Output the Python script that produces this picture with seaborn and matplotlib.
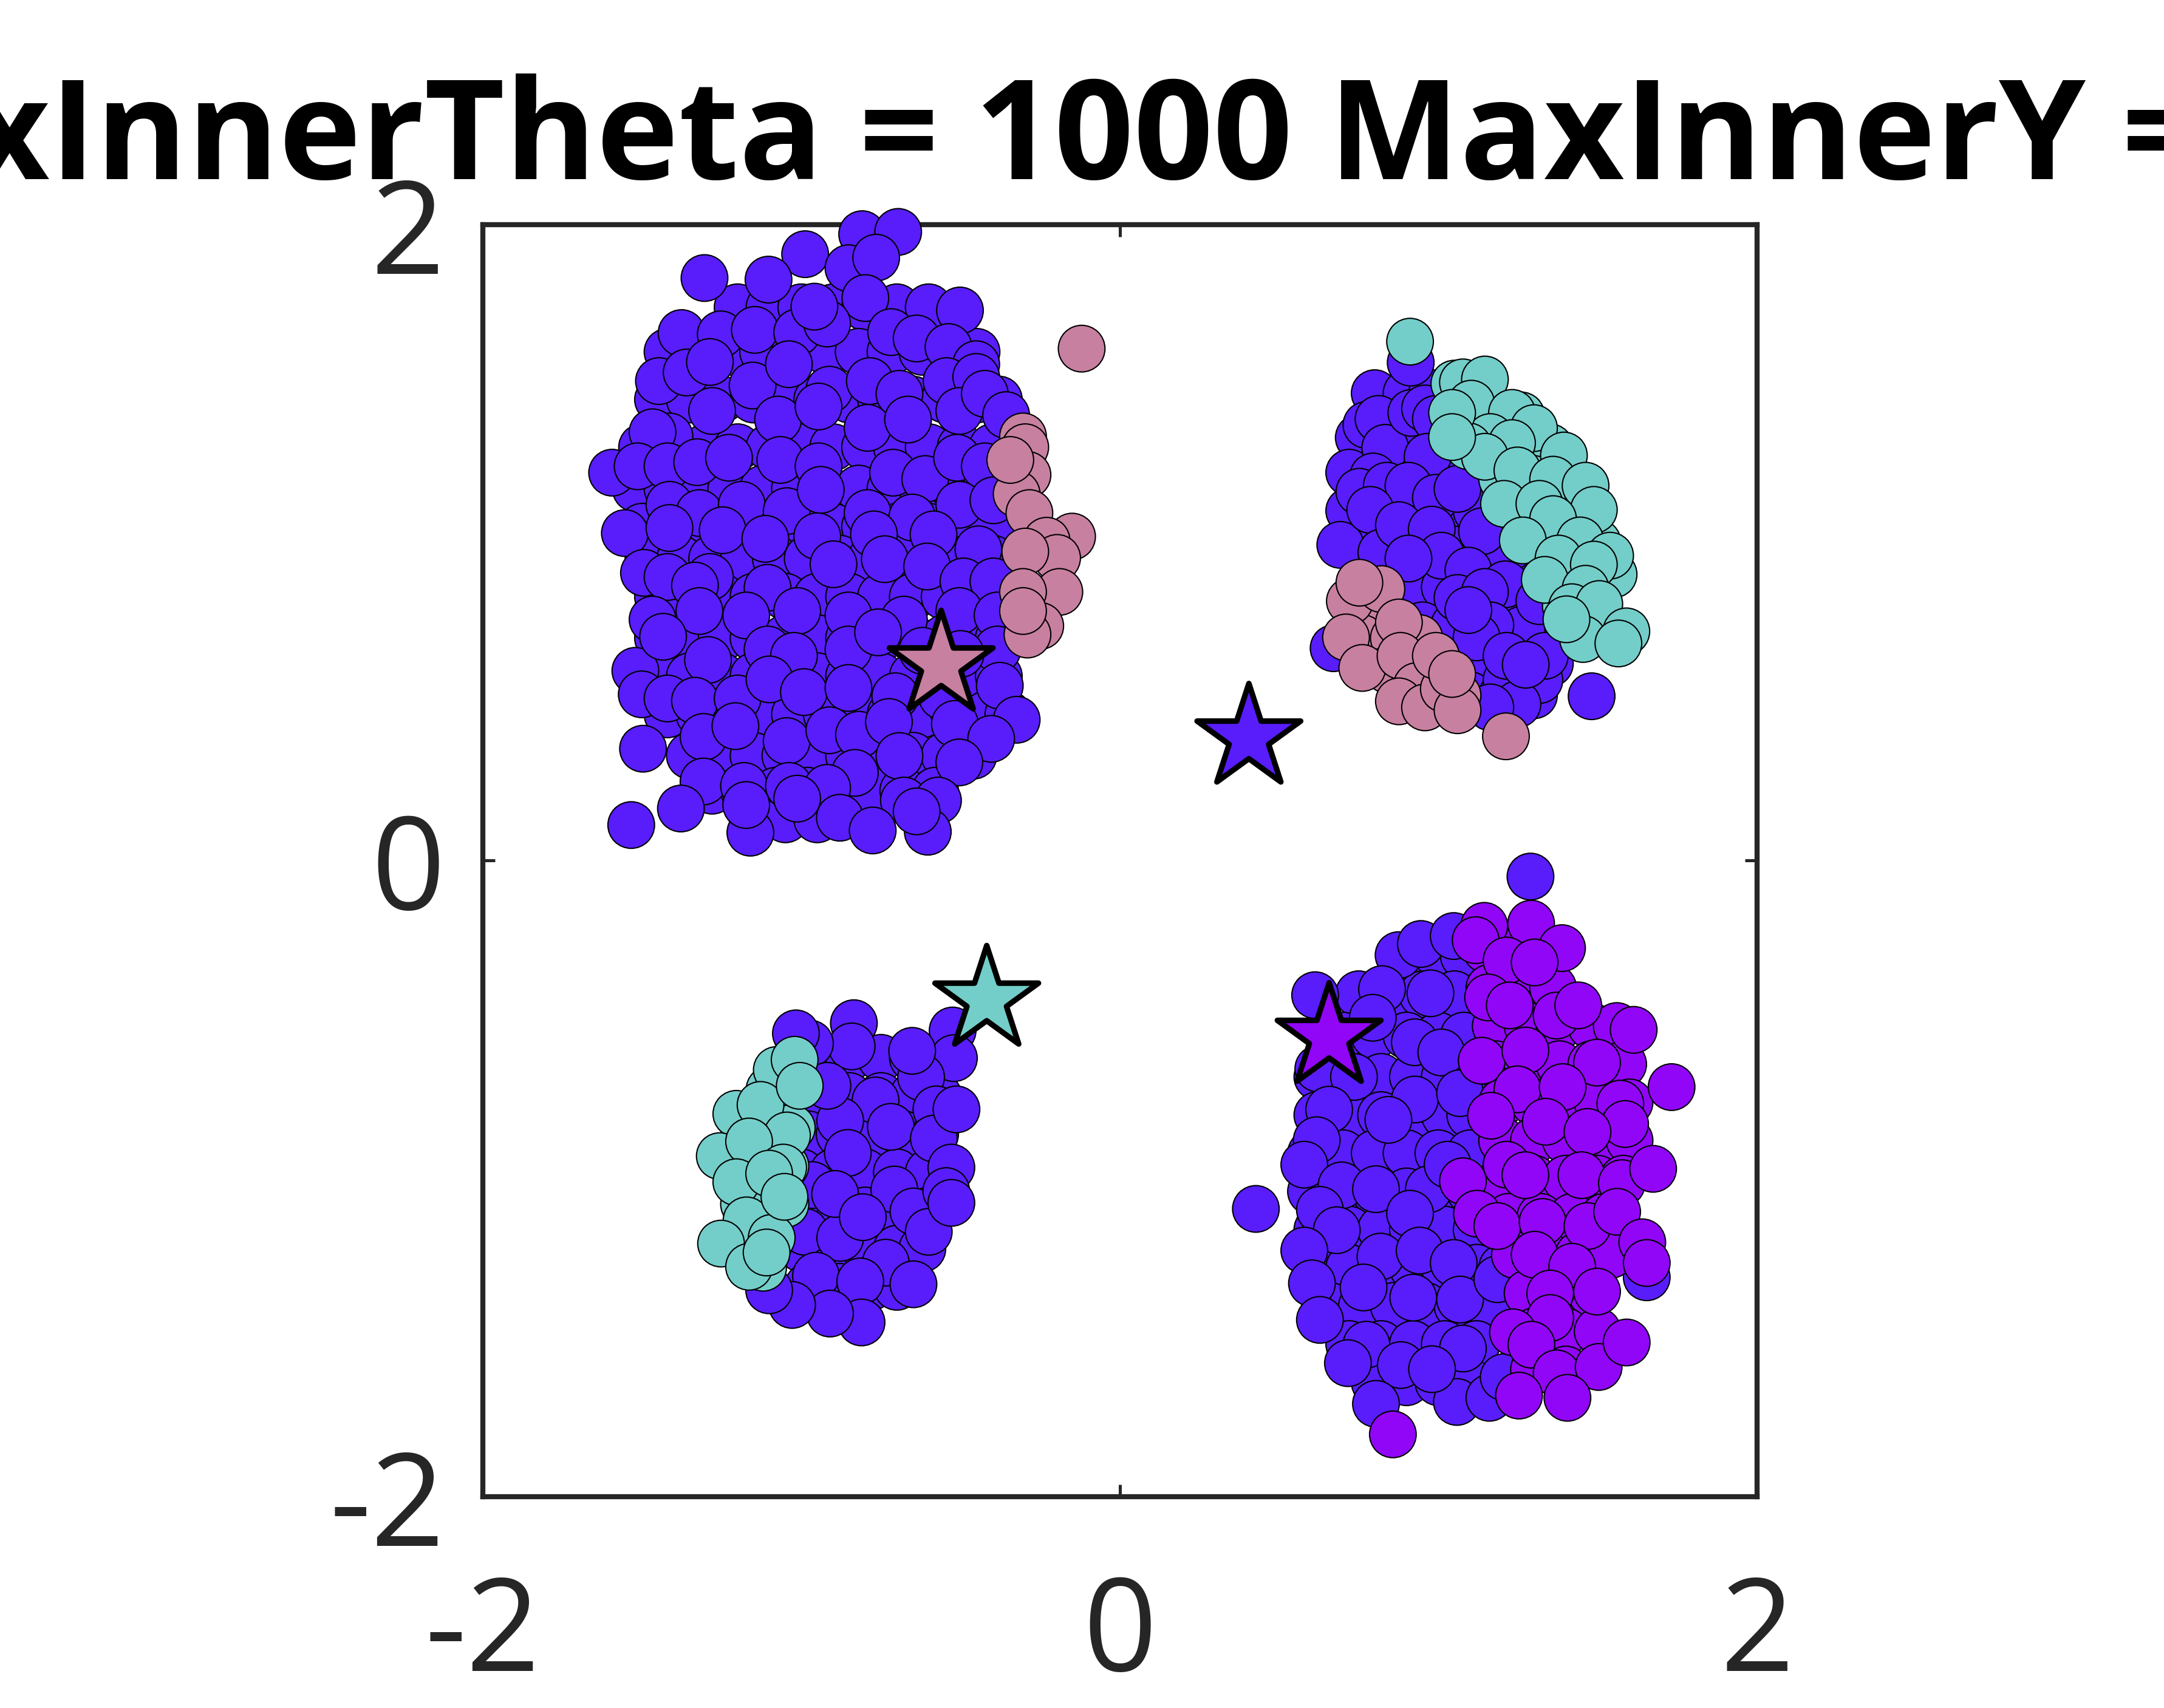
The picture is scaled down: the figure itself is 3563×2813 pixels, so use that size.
import matplotlib
matplotlib.use("Agg")
import matplotlib.pyplot as plt
import seaborn as sns
import pandas as pd

# ---------------- data ----------------
# dense inner parts of each blob, as rows: (y, [x values])
blue_core_rows = [
    (1.74, [-1.20, -1.10, -1.00, -0.90, -0.80, -0.70, -0.60]),
    (1.60, [-1.42, -1.32, -1.22, -1.12, -1.02, -0.92, -0.82, -0.72, -0.62, -0.52, -0.45]),
    (1.45, [-1.45, -1.35, -1.25, -1.15, -1.05, -0.95, -0.85, -0.75, -0.65, -0.55, -0.45, -0.38]),
    (1.30, [-1.50, -1.40, -1.30, -1.20, -1.10, -1.00, -0.90, -0.80, -0.70, -0.60, -0.50, -0.40]),
    (1.17, [-1.52, -1.42, -1.32, -1.22, -1.12, -1.02, -0.92, -0.82, -0.72, -0.62, -0.52, -0.42]),
    (1.05, [-1.50, -1.40, -1.30, -1.20, -1.10, -1.00, -0.90, -0.80, -0.70, -0.60, -0.50, -0.40]),
    (0.95, [-1.48, -1.38, -1.28, -1.18, -1.08, -0.98, -0.88, -0.78, -0.68, -0.58, -0.48, -0.40]),
    (0.83, [-1.45, -1.35, -1.25, -1.15, -1.05, -0.95, -0.85, -0.75, -0.65, -0.55, -0.45, -0.38]),
    (0.70, [-1.45, -1.35, -1.25, -1.15, -1.05, -0.95, -0.85, -0.75, -0.65, -0.55, -0.45, -0.38]),
    (0.58, [-1.45, -1.35, -1.25, -1.15, -1.05, -0.95, -0.85, -0.75, -0.65, -0.55, -0.45, -0.38]),
    (0.46, [-1.42, -1.32, -1.22, -1.12, -1.02, -0.92, -0.82, -0.72, -0.62, -0.52, -0.42, -0.35]),
    (0.33, [-1.35, -1.25, -1.15, -1.05, -0.95, -0.85, -0.75, -0.65, -0.55, -0.46]),
    (0.22, [-1.28, -1.18, -1.08, -0.98, -0.88, -0.78, -0.68, -0.58]),
    (0.13, [-1.05, -0.95]),
    # top-right blob
    (1.47, [0.80, 0.90, 0.98]),
    (1.33, [0.75, 0.85, 0.95, 1.03]),
    (1.22, [0.72, 0.82, 0.92, 1.02, 1.08]),
    (1.10, [0.72, 0.82, 0.92, 1.02, 1.12]),
    (0.98, [0.74, 0.84, 0.94, 1.04, 1.14, 1.22]),
    (0.86, [0.82, 0.92, 1.02, 1.12, 1.22, 1.30]),
    (0.74, [0.95, 1.05, 1.15, 1.25, 1.35]),
    (0.62, [1.05, 1.15, 1.25, 1.35]),
    (0.52, [1.10, 1.20, 1.30]),
    # bottom-left blob
    (-0.62, [-0.95, -0.85, -0.75, -0.65]),
    (-0.74, [-0.95, -0.85, -0.75, -0.65, -0.57]),
    (-0.86, [-0.98, -0.88, -0.78, -0.68, -0.58]),
    (-0.98, [-1.00, -0.90, -0.80, -0.70, -0.60]),
    (-1.10, [-1.00, -0.90, -0.80, -0.70, -0.60]),
    (-1.22, [-1.00, -0.90, -0.80, -0.70, -0.62]),
    (-1.34, [-0.98, -0.88, -0.78, -0.70]),
    (-1.42, [-0.85]),
    # bottom-right blob
    (-0.30, [0.90, 1.00, 1.08]),
    (-0.42, [0.75, 0.85, 0.95, 1.05]),
    (-0.55, [0.70, 0.80, 0.90, 1.00, 1.08]),
    (-0.68, [0.62, 0.72, 0.82, 0.92, 1.02, 1.10]),
    (-0.80, [0.62, 0.72, 0.82, 0.92, 1.02, 1.10]),
    (-0.92, [0.60, 0.70, 0.80, 0.90, 1.00, 1.10]),
    (-1.04, [0.60, 0.70, 0.80, 0.90, 1.00, 1.10]),
    (-1.16, [0.62, 0.72, 0.82, 0.92, 1.02, 1.12]),
    (-1.28, [0.62, 0.72, 0.82, 0.92, 1.02, 1.12, 1.20]),
    (-1.40, [0.66, 0.76, 0.86, 0.96, 1.06, 1.16]),
    (-1.52, [0.72, 0.82, 0.92, 1.02, 1.12]),
    (-1.64, [0.80, 0.90, 1.00, 1.10]),
]
pink_core_rows = [
    (0.80, [0.74, 0.82]),
    (0.70, [0.76, 0.86, 0.94]),
    (0.60, [0.84, 0.94, 1.02]),
    (0.52, [0.92, 1.00, 1.06]),
]
teal_core_rows = [
    (1.50, [1.05, 1.12]),
    (1.40, [1.10, 1.18, 1.26]),
    (1.30, [1.15, 1.25, 1.35]),
    (1.20, [1.20, 1.30, 1.40]),
    (1.10, [1.25, 1.35, 1.45]),
    (1.00, [1.32, 1.42, 1.50]),
    (0.90, [1.38, 1.48, 1.55]),
    (0.80, [1.40, 1.50]),
    (-0.72, [-1.10, -1.03]),
    (-0.84, [-1.18, -1.10, -1.03]),
    (-0.96, [-1.20, -1.12, -1.05]),
    (-1.08, [-1.18, -1.10, -1.05]),
    (-1.20, [-1.18, -1.10]),
    (-1.28, [-1.12]),
]
purple_core_rows = [
    (-0.28, [1.15, 1.25, 1.33]),
    (-0.40, [1.16, 1.26, 1.36]),
    (-0.52, [1.18, 1.28, 1.38, 1.48, 1.56]),
    (-0.64, [1.18, 1.28, 1.38, 1.48, 1.58]),
    (-0.76, [1.20, 1.30, 1.40, 1.50, 1.60]),
    (-0.88, [1.20, 1.30, 1.40, 1.50, 1.60]),
    (-1.00, [1.20, 1.30, 1.40, 1.50, 1.58]),
    (-1.12, [1.22, 1.32, 1.42, 1.52]),
    (-1.24, [1.24, 1.34, 1.44, 1.54]),
    (-1.36, [1.28, 1.38, 1.48]),
    (-1.48, [1.30, 1.40, 1.50]),
    (-1.60, [1.30, 1.40]),
]

# individually visible points on the outside of each blob
blue_x = [
    -0.809, -0.696, -0.988, -1.304, -1.103, -0.852, -0.765, -0.502, -0.799,
    -1.376, -1.253, -1.146, -1.013, -0.919, -0.718, -0.638, -0.538, -0.451, -0.959,
    -1.447, -1.360, -1.287, -1.153, -1.039, -0.912, -0.785, -0.692, -0.544, -0.451,
    -1.414, -1.467, -1.280, -1.073, -0.946, -0.792, -0.665, -0.504, -0.424, -0.357,
    -1.594, -1.514, -1.420, -1.327, -1.227, -1.066, -0.946, -0.712, -0.611, -0.511, -0.424,
    -1.414, -1.320, -1.187, -1.046, -0.939, -0.792, -0.652, -0.504, -0.397,
    -1.554, -1.414, -1.247, -1.113, -0.950, -0.772, -0.444, -0.585,
    -1.494, -1.420, -1.287, -1.106, -0.899, -0.738, -0.605, -0.491, -0.397, -1.334,
    -1.467, -1.320, -1.173, -1.013, -0.852, -0.678, -0.504, -0.384,
    -1.521, -1.434, -1.293, -1.106, -1.023, -0.852, -0.759, -0.384, -0.620, -0.500,
    -1.501, -1.420, -1.334, -1.200, -1.100, -0.992, -0.852, -0.705, -0.558, -0.377, -0.324,
    -1.497, -1.307, -1.207, -1.046, -0.912, -0.819, -0.725, -0.518, -0.404, -0.504, -0.692,
    -1.307, -1.180, -1.039, -0.832, -0.678, -0.919, -0.571,
    -1.534, -1.378, -1.160, -0.879, -0.776, -0.603, -0.638, -1.173, -1.013,
    0.913, 0.774, 0.812, 0.833, 0.915, 0.958, 0.992, 0.966, 0.795, 0.752, 0.838,
    0.906, 0.992, 1.060, 0.692, 0.786, 0.821, 0.876, 0.979, 1.009, 1.137, 0.906,
    1.094, 1.210, 1.060, 1.146, 1.261, 1.317, 1.445, 1.163, 1.214, 1.317, 1.120,
    1.094, 1.248, 1.163, 1.481, 0.671, 1.214, 1.334, 1.274,
    -0.525, -0.521, -0.835, -0.842, -0.973, -1.017, -0.624, -0.767, -0.576, -0.652,
    -0.878, -0.719, -0.584, -0.854, -0.529, -0.708, -0.648, -0.878, -0.600, -0.966,
    -0.989, -0.878, -0.735, -0.648, -0.954, -0.815, -0.811, -0.910, -1.029, -1.101,
    -0.894, -0.807, -0.545, -0.918, -0.513, -0.529,
    1.289, 0.875, 0.945, 1.048, 0.613, 0.823, 0.975, 0.794, 0.926, 1.009, 0.623,
    0.926, 0.735, 0.657, 1.068, 0.843, 0.618, 0.579, 0.427, 0.696, 0.804, 0.970,
    1.029, 0.628, 0.911, 0.681, 0.818, 0.941, 0.579, 1.048, 0.603, 0.765, 0.921,
    1.068, 1.185, 0.628, 0.774, 0.882, 0.716, 1.077, 0.804, 1.058, 1.160, 0.980,
    1.205, 1.654,
]
blue_y = [
    1.970, 1.977, 1.907, 1.832, 1.827, 1.863, 1.896, 1.730, 1.769,
    1.659, 1.655, 1.669, 1.661, 1.689, 1.662, 1.642, 1.615, 1.561, 1.742,
    1.508, 1.535, 1.568, 1.494, 1.561, 1.481, 1.508, 1.468, 1.508, 1.521,
    1.334, 1.347, 1.414, 1.387, 1.428, 1.361, 1.387, 1.414, 1.468, 1.401,
    1.220, 1.240, 1.240, 1.253, 1.267, 1.260, 1.240, 1.220, 1.200, 1.267, 1.240,
    1.119, 1.093, 1.119, 1.099, 1.166, 1.093, 1.079, 1.119, 1.133,
    1.030, 1.046, 1.039, 1.012, 1.020, 1.026, 0.979, 1.026,
    0.905, 0.892, 0.892, 0.858, 0.932, 0.948, 0.925, 0.878, 0.878, 0.865,
    0.758, 0.785, 0.771, 0.785, 0.771, 0.758, 0.785, 0.771,
    0.597, 0.704, 0.631, 0.664, 0.644, 0.664, 0.718, 0.664, 0.660, 0.650,
    0.523, 0.510, 0.503, 0.510, 0.570, 0.530, 0.543, 0.517, 0.517, 0.550, 0.443,
    0.352, 0.389, 0.423, 0.376, 0.410, 0.396, 0.436, 0.430, 0.383, 0.309, 0.329,
    0.249, 0.235, 0.235, 0.276, 0.189, 0.229, 0.189,
    0.112, 0.164, 0.088, 0.135, 0.095, 0.091, 0.155, 0.175, 0.195,
    1.566, 1.370, 1.389, 1.298, 1.408, 1.422, 1.389, 1.270, 1.208, 1.160, 1.179,
    1.179, 1.141, 1.169, 0.993, 1.103, 0.969, 1.055, 1.041, 0.959, 1.036, 0.950,
    0.912, 0.869, 0.826, 0.845, 0.726, 0.816, 0.721, 0.740, 0.568, 0.568, 0.702,
    0.788, 0.492, 0.482, 0.517, 0.668, 0.644, 0.644, 0.616,
    -0.534, -0.621, -0.511, -0.584, -0.575, -0.543, -0.681, -0.754, -0.782, -0.598,
    -0.818, -0.837, -0.874, -0.919, -0.965, -1.034, -1.103, -1.117, -1.167, -1.020,
    -1.167, -1.186, -1.264, -1.332, -1.305, -1.323, -1.452, -1.424, -1.397, -1.351,
    -1.048, -1.121, -1.039, -0.708, -0.782, -1.076,
    -0.050, -0.297, -0.262, -0.237, -0.423, -0.404, -0.417, -0.494, -0.571, -0.603, -0.654,
    -0.751, -0.680, -0.783, -0.731, -0.815, -0.879, -0.956, -1.095, -1.021, -1.033, -1.033,
    -0.956, -1.098, -1.110, -1.162, -1.245, -1.226, -1.226, -1.265, -1.329, -1.342, -1.374,
    -1.380, -1.316, -1.444, -1.522, -1.586, -1.580, -1.534, -1.708, -1.702, -1.689, -1.599,
    -1.624, -1.310,
]

pink_x = [
    -0.304, -0.297, -0.290, -0.324, -0.284, -0.150, -0.230, -0.197, -0.297, -0.190,
    -0.304, -0.250, -0.290, -0.344, -0.120, -0.304,
    0.722, 0.710, 0.761, 0.821, 0.876, 0.881, 0.932, 0.876, 0.958, 1.017, 1.060,
    0.992, 1.043, 1.212, 0.752,
]
pink_y = [
    1.334, 1.300, 1.213, 1.153, 1.093, 1.019, 1.006, 0.952, 0.972, 0.845,
    0.845, 0.738, 0.711, 1.260, 1.610, 0.785,
    0.816, 0.702, 0.606, 0.854, 0.749, 0.644, 0.549, 0.501, 0.482, 0.540, 0.473,
    0.644, 0.587, 0.391, 0.874,
]

teal_x = [
    0.911, 1.077, 1.146, 1.103, 1.231, 1.300, 1.163, 1.231, 1.094, 1.146, 1.394,
    1.248, 1.360, 1.462, 1.206, 1.317, 1.488, 1.360, 1.445, 1.539, 1.265, 1.377,
    1.488, 1.334, 1.462, 1.419, 1.505, 1.454, 1.590, 1.565, 1.402, 1.043, 1.043,
    -1.077, -1.021, -1.204, -1.128, -1.005, -1.045, -1.256, -1.164, -1.057, -1.204,
    -1.101, -1.172, -1.252, -1.164, -1.093, -1.053, -1.109,
]
teal_y = [
    1.632, 1.504, 1.513, 1.437, 1.408, 1.360, 1.332, 1.313, 1.303, 1.270, 1.274,
    1.227, 1.198, 1.179, 1.122, 1.122, 1.103, 1.074, 1.007, 0.959, 1.007, 0.950,
    0.931, 0.883, 0.855, 0.797, 0.807, 0.697, 0.721, 0.683, 0.759, 1.408, 1.332,
    -0.658, -0.626, -0.796, -0.768, -0.708, -0.864, -0.929, -0.883, -0.965, -1.011,
    -0.984, -1.131, -1.204, -1.277, -1.186, -1.057, -1.232,
]

purple_x = [
    1.144, 1.291, 1.388, 1.117, 1.214, 1.302, 1.156, 1.224, 1.371, 1.439, 1.613,
    1.136, 1.273, 1.498, 1.732, 1.248, 1.390, 1.571, 1.165, 1.337, 1.586, 1.468,
    1.214, 1.273, 1.449, 1.576, 1.077, 1.121, 1.185, 1.327, 1.468, 1.561, 1.640,
    1.302, 1.420, 1.498, 1.351, 1.351, 1.234, 1.292, 1.371, 1.503, 1.591, 1.253,
    1.405, 0.857, 1.674, 1.654,
]
purple_y = [
    -0.205, -0.198, -0.275, -0.250, -0.314, -0.320, -0.430, -0.455, -0.487, -0.455, -0.532,
    -0.629, -0.597, -0.635, -0.712, -0.719, -0.712, -0.764, -0.802, -0.821, -0.828, -0.853,
    -0.956, -0.989, -0.989, -1.014, -1.008, -1.110, -1.149, -1.136, -1.149, -1.104, -1.200,
    -1.239, -1.277, -1.355, -1.361, -1.438, -1.483, -1.522, -1.612, -1.592, -1.515, -1.682,
    -1.689, -1.804, -0.969, -1.265,
]

star_cls = ["pink", "blue", "teal", "purple"]
star_x = [-0.561, 0.405, -0.418, 0.657]
star_y = [0.616, 0.386, -0.438, -0.555]

class_order = ["blue", "pink", "teal", "purple"]
palette = {"blue": "#581DFA", "pink": "#C880A0", "teal": "#73CEC9", "purple": "#9106F7"}

title_text = "MaxInnerTheta = 1000 MaxInnerY = 1000"
tick_vals = [-2, 0, 2]
tick_labels = ["-2", "0", "2"]


# ---------------- build tables ----------------
def rows_to_xy(rows):
    xs, ys = [], []
    for yv, xrow in rows:
        xs.extend(xrow)
        ys.extend([yv] * len(xrow))
    return xs, ys


parts = [
    ("blue", blue_core_rows, blue_x, blue_y),
    ("pink", pink_core_rows, pink_x, pink_y),
    ("teal", teal_core_rows, teal_x, teal_y),
    ("purple", purple_core_rows, purple_x, purple_y),
]
all_x, all_y, all_c = [], [], []
for cls, rows, ex, ey in parts:
    cx, cy = rows_to_xy(rows)
    xs = cx + ex
    ys = cy + ey
    all_x += xs
    all_y += ys
    all_c += [cls] * len(xs)

points = pd.DataFrame({"x": all_x, "y": all_y, "cls": all_c})
stars = pd.DataFrame({"x": star_x, "y": star_y, "cls": star_cls})

# ---------------- plot ----------------
sns.set_theme(style="ticks")
plt.rcParams["font.family"] = ["Open Sans", "DejaVu Sans"]
plt.rcParams["axes.unicode_minus"] = False

fig = plt.figure(figsize=(3563 / 300, 2813 / 300), dpi=300)
ax = fig.add_axes([0.2231, 0.1237, 0.5888, 0.7448])

sns.scatterplot(data=points, x="x", y="y", hue="cls", hue_order=class_order,
                palette=palette, s=340, edgecolor="black", linewidth=0.5,
                legend=False, ax=ax, zorder=3, clip_on=False)
sns.scatterplot(data=stars, x="x", y="y", hue="cls", hue_order=class_order,
                palette=palette, marker="*", s=1850, edgecolor="black",
                linewidth=2.2, legend=False, ax=ax, zorder=4, clip_on=False)

ax.set_xlim(-2, 2)
ax.set_ylim(-2, 2)
ax.set_xticks(tick_vals)
ax.set_yticks(tick_vals)
ax.set_xticklabels(tick_labels)
ax.set_yticklabels(tick_labels)
ax.set_xlabel("")
ax.set_ylabel("")

for sp in ax.spines.values():
    sp.set_visible(True)
    sp.set_linewidth(2.0)
    sp.set_color("#262626")

ax.tick_params(direction="in", length=4.8, width=1.2, color="#262626",
               top=True, right=True, labelsize=51, labelcolor="#262626")
ax.tick_params(axis="x", pad=30)
ax.tick_params(axis="y", pad=15)

ax.set_title(title_text, fontsize=55, fontweight="bold", pad=18, color="black", x=0.527)

fig.savefig("out.png", dpi=300)
